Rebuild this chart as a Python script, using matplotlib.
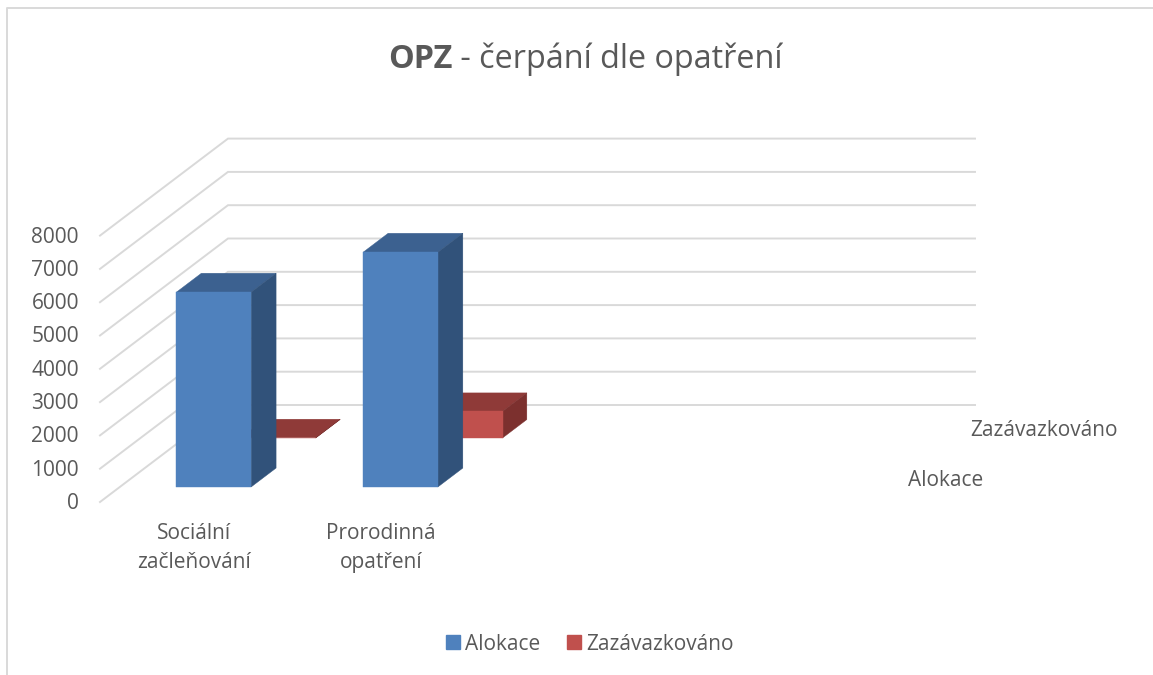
# OPZ - cerpani dle opatreni, 3D sloupce kreslene rucne do 2D os

from matplotlib import pyplot as plt
from matplotlib.patches import Patch

plt.rcParams['font.family'] = ['Open Sans', 'DejaVu Sans']

categories = ["Sociální\nzačleňování", "Prorodinná\nopatření"]
series_names = ["Alokace", "Zazávazkováno"]
alokace = [5850, 7050]
zazavazkovano = [10, 800]
y_ticks = [0, 1000, 2000, 3000, 4000, 5000, 6000, 7000, 8000]

W, H = 1153, 675
CAT_PX = 186.75
VAL_PX = 33.3 / 1000
DX = 128 / CAT_PX      # posun hloubky v jednotkach kategorii
DY = 97 / VAL_PX       # posun hloubky v jednotkach hodnot
GREY = "#D9D9D9"
TEXT = "#595959"

fig = plt.figure(figsize=(W / 100, H / 100), dpi=100)
ax = fig.add_axes([0, 0, 1, 1])
ax.set_xlim(-100 / CAT_PX, (W - 100) / CAT_PX)
ax.set_ylim(-(H - 502) / VAL_PX, 502 / VAL_PX)
ax.axis("off")


def pt(cat, val, depth):
    return cat + depth * DX, val + depth * DY


def draw_bar(cat, val, d0, d1, front, top, side):
    half = 0.2
    l, r = cat + 0.503 - half, cat + 0.503 + half
    faces = [
        ([pt(l, val, d0), pt(r, val, d0), pt(r, val, d1), pt(l, val, d1)], top),
        ([pt(r, 0, d0), pt(r, 0, d1), pt(r, val, d1), pt(r, val, d0)], side),
        ([pt(l, 0, d0), pt(r, 0, d0), pt(r, val, d0), pt(l, val, d0)], front),
    ]
    for verts, color in faces:
        ax.fill(*zip(*verts), color=color, lw=0.3, zorder=3)


# ramecek grafu
ax.plot([7 / CAT_PX - 100 / CAT_PX, 7 / CAT_PX - 100 / CAT_PX, (W - 100) / CAT_PX],
        [-(H - 502) / VAL_PX, (502 - 8) / VAL_PX, (502 - 8) / VAL_PX],
        color=GREY, lw=1.4, zorder=1)

# mrizka: zadni stena a bocni stena
for v in y_ticks:
    x0, y0 = pt(0, v, 0)
    x1, y1 = pt(0, v, 1)
    x2, y2 = pt(4, v, 1)
    ax.plot([x0, x1, x2], [y0, y1, y2], color=GREY, lw=1.4, zorder=2,
            solid_joinstyle="miter")
    ax.text(-21 / CAT_PX, v - 45, str(v), ha="right", va="center", fontsize=15,
            color=TEXT)

# cervene sloupce jsou vzadu, modre vpredu
for i, v in enumerate(zazavazkovano):
    draw_bar(i, v, 0.66, 0.85, "#C0504D", "#8F3A38", "#7C302E")
for i, v in enumerate(alokace):
    draw_bar(i, v, 0.155, 0.35, "#4F81BD", "#3C6190", "#31527A")

# popisky kategorii
for i, name in enumerate(categories):
    ax.text(i + 0.505, -620, name, ha="center", va="top", fontsize=15,
            color=TEXT, linespacing=1.5)

# popisky rad na hloubkove ose
ax.text(908 / CAT_PX - 100 / CAT_PX, (502 - 481) / VAL_PX, series_names[0],
        ha="left", va="center", fontsize=15, color=TEXT)
ax.text(970 / CAT_PX - 100 / CAT_PX, (502 - 431) / VAL_PX, series_names[1],
        ha="left", va="center", fontsize=15, color=TEXT)

# nadpis, OPZ tucne
t1 = ax.text(388 / W, 1 - 59 / H, "OPZ", transform=ax.transAxes, ha="left",
             va="center", fontsize=23.3, fontweight="bold", color=TEXT)
ax.annotate(" - čerpání dle opatření", xy=(1, 0), xycoords=t1,
            ha="left", va="bottom", fontsize=23.3, color=TEXT)

handles = [Patch(color="#4F81BD"), Patch(color="#C0504D")]
ax.legend(handles, series_names, loc="center", bbox_to_anchor=(590 / W, 1 - 644 / H),
          ncol=2, frameon=False, fontsize=15, labelcolor=TEXT, handlelength=0.67,
          handleheight=0.67, handletextpad=0.25, columnspacing=1.3)

plt.savefig("out.png", dpi=100)
